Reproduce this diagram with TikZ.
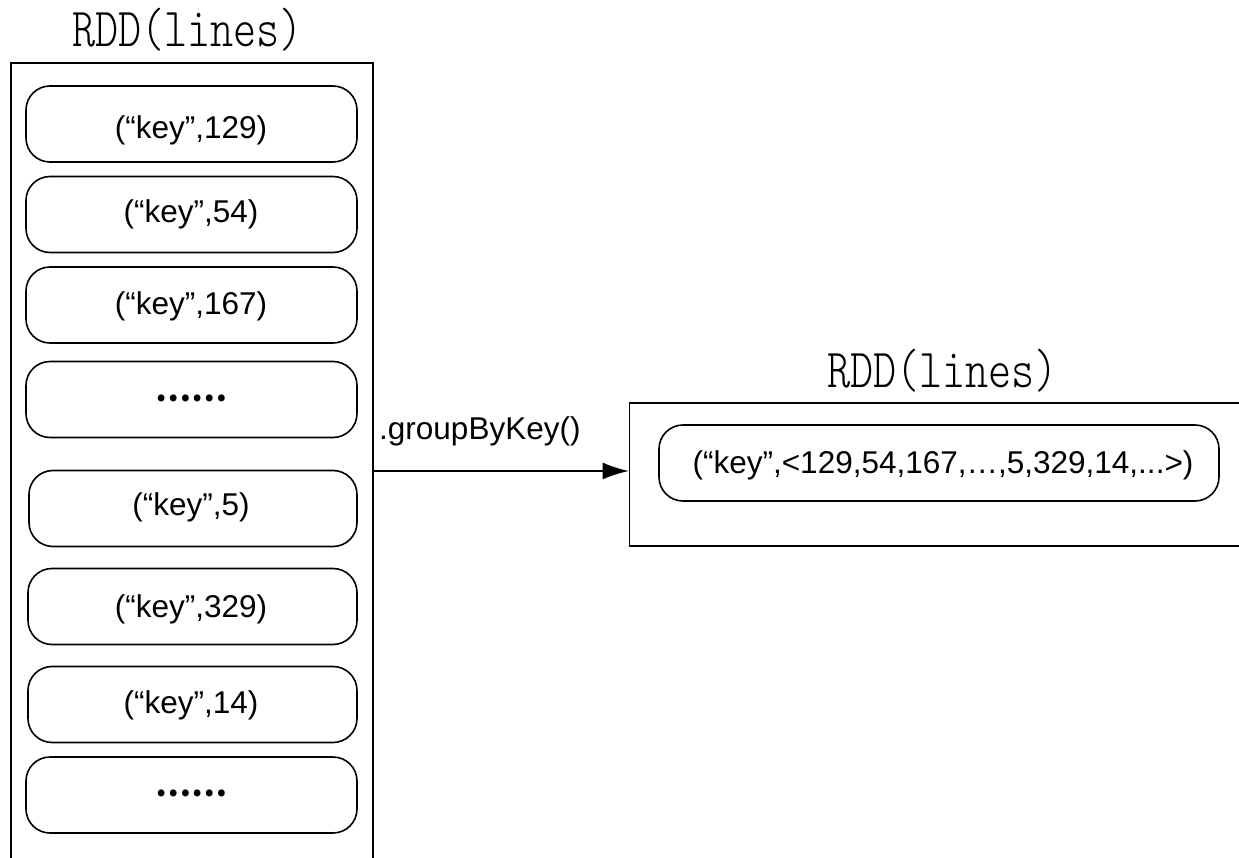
\documentclass[tikz,border=0pt]{standalone}
\usepackage{fontspec}
\setmainfont{Liberation Sans}
\newfontfamily\cjk{Noto Sans CJK SC}
\newfontfamily\titlemono{lmmonolt10-regular.otf}
\usetikzlibrary{arrows.meta}
\begin{document}
\begin{tikzpicture}[x=1pt,y=-1pt,
  frame/.style={draw, line width=1.6pt, rectangle, inner sep=0pt},
  pill/.style={draw, line width=1.6pt, rounded corners=24pt, minimum height=76pt, inner sep=0pt},
  lbl/.style={font=\fontsize{31.5}{36}\selectfont, anchor=base, inner sep=0pt},
  dots/.style={font=\cjk\bfseries\fontsize{32}{36}\selectfont, inner sep=0pt},
  title/.style={font=\titlemono\fontsize{55}{60}\selectfont, anchor=base, inner sep=0pt},
  flow/.style={line width=1.6pt, -{Latex[length=26pt,width=17pt]}}]
\clip (0,0) rectangle (1239,858);

% source RDD: open-ended column of records
\node[title] (ttlL) at (187.5,47) {\scalebox{0.8}[1]{RDD(lines)}};
\node[frame, minimum width=362pt, minimum height=840pt] (L) at (192,483) {};

\node[pill, minimum width=331pt] (b1) at (191.5,124) {};
\node[lbl] (t1) at (191,139) {(“key”,129)};
\node[pill, minimum width=331pt] (b2) at (191.5,214.5) {};
\node[lbl] (t2) at (191,223) {(“key”,54)};
\node[pill, minimum width=331pt] (b3) at (191.5,305) {};
\node[lbl] (t3) at (191,315) {(“key”,167)};
\node[pill, minimum width=331pt] (b4) at (191.5,399.5) {};
\node[dots] (t4) at (191,398) {……};
\node[pill, minimum width=328pt] (b5) at (193,508.5) {};
\node[lbl] (t5) at (191,515) {(“key”,5)};
\node[pill, minimum width=329pt] (b6) at (192.5,606.5) {};
\node[lbl] (t6) at (191,617) {(“key”,329)};
\node[pill, minimum width=329pt] (b7) at (192.5,704.5) {};
\node[lbl] (t7) at (191,713) {(“key”,14)};
\node[pill, minimum width=331pt] (b8) at (191.5,795) {};
\node[dots] (t8) at (191,793) {……};

% grouped RDD
\node[title] (ttlR) at (942.5,387) {\scalebox{0.8}[1]{RDD(lines)}};
\node[frame, minimum width=680pt, minimum height=143pt] (R) at (969.5,474.5) {};
\node[pill, minimum width=560pt] (r1) at (939,463) {};
\node[lbl] (rt) at (943,473) {(“key”,<129,54,167,…,5,329,14,...>)};

% transformation
\coordinate (src) at (373,471);
\draw[flow] (src) -- (src -| R.west);
\node[lbl, anchor=base west] (op) at (379,439) {.groupByKey()};
\end{tikzpicture}
\end{document}
